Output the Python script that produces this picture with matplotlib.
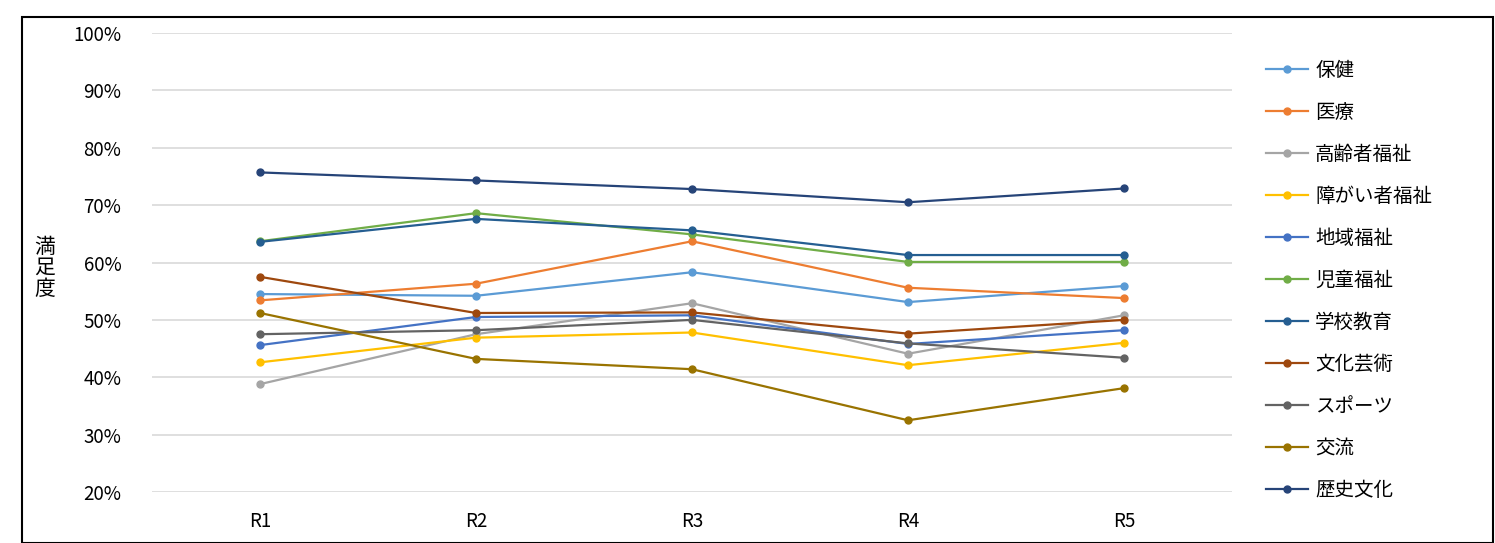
import numpy as np
import matplotlib.pyplot as plt
from matplotlib.patches import Rectangle

plt.rcParams['font.family'] = ['Noto Sans CJK JP', 'DejaVu Sans']

years = ['R1', 'R2', 'R3', 'R4', 'R5']
names = ['保健', '医療', '高齢者福祉', '障がい者福祉', '地域福祉', '児童福祉',
         '学校教育', '文化芸術', 'スポーツ', '交流', '歴史文化']
values = [
    [54.5, 54.2, 58.3, 53.1, 55.9],
    [53.4, 56.3, 63.7, 55.6, 53.8],
    [38.8, 47.5, 52.9, 44.1, 50.8],
    [42.6, 46.9, 47.8, 42.1, 46.0],
    [45.6, 50.5, 50.8, 45.8, 48.2],
    [63.7, 68.6, 64.9, 60.1, 60.1],
    [63.6, 67.6, 65.6, 61.3, 61.3],
    [57.5, 51.2, 51.3, 47.6, 50.0],
    [47.5, 48.2, 50.0, 45.9, 43.4],
    [51.2, 43.2, 41.4, 32.5, 38.1],
    [75.7, 74.3, 72.8, 70.5, 72.9],
]
colors = ['#5B9BD5', '#ED7D31', '#A5A5A5', '#FFC000', '#4472C4', '#70AD47',
          '#255E91', '#9E480E', '#636363', '#997300', '#264478']

W, H = 1495, 543
fig = plt.figure(figsize=(W / 100, H / 100), dpi=100)
ax = fig.add_axes([152 / W, 1 - 492 / H, (1232 - 152) / W, (492 - 33) / H])

x = np.arange(len(years))
for name, vals, c in zip(names, values, colors):
    ax.plot(x, np.array(vals) / 100, color=c, lw=1.6, marker='o', ms=5, label=name)

ax.set_xlim(-0.5, 4.5)
ax.set_ylim(0.2, 1.0)
ax.set_yticks(np.arange(0.2, 1.01, 0.1))
ax.set_yticklabels([f'{int(round(v * 100))}%' for v in np.arange(0.2, 1.01, 0.1)])
ax.set_xticks(x)
ax.set_xticklabels(years)
ax.grid(axis='y', color='#D9D9D9', lw=1.2)
ax.set_axisbelow(True)
for s in ax.spines.values():
    s.set_visible(False)
ax.tick_params(length=0, labelsize=13.5, colors='black')
ax.tick_params(axis='y', pad=22)
ax.tick_params(axis='x', pad=14)

fig.text(45 / W, 1 - 268 / H, '満\n足\n度', ha='center', va='center', fontsize=15, linespacing=0.95)

leg = fig.legend(loc='upper left', bbox_to_anchor=(1248 / W, 1 - 42 / H), frameon=False,
                 fontsize=14, labelspacing=1.08, handlelength=2.2, handletextpad=0.35)

fig.patches.append(Rectangle((22 / W, 0), (W - 2 * 22 + 20) / W, 1 - 17 / H, transform=fig.transFigure,
                             fill=False, ec='black', lw=1.5))

fig.savefig('out.png', dpi=100)
